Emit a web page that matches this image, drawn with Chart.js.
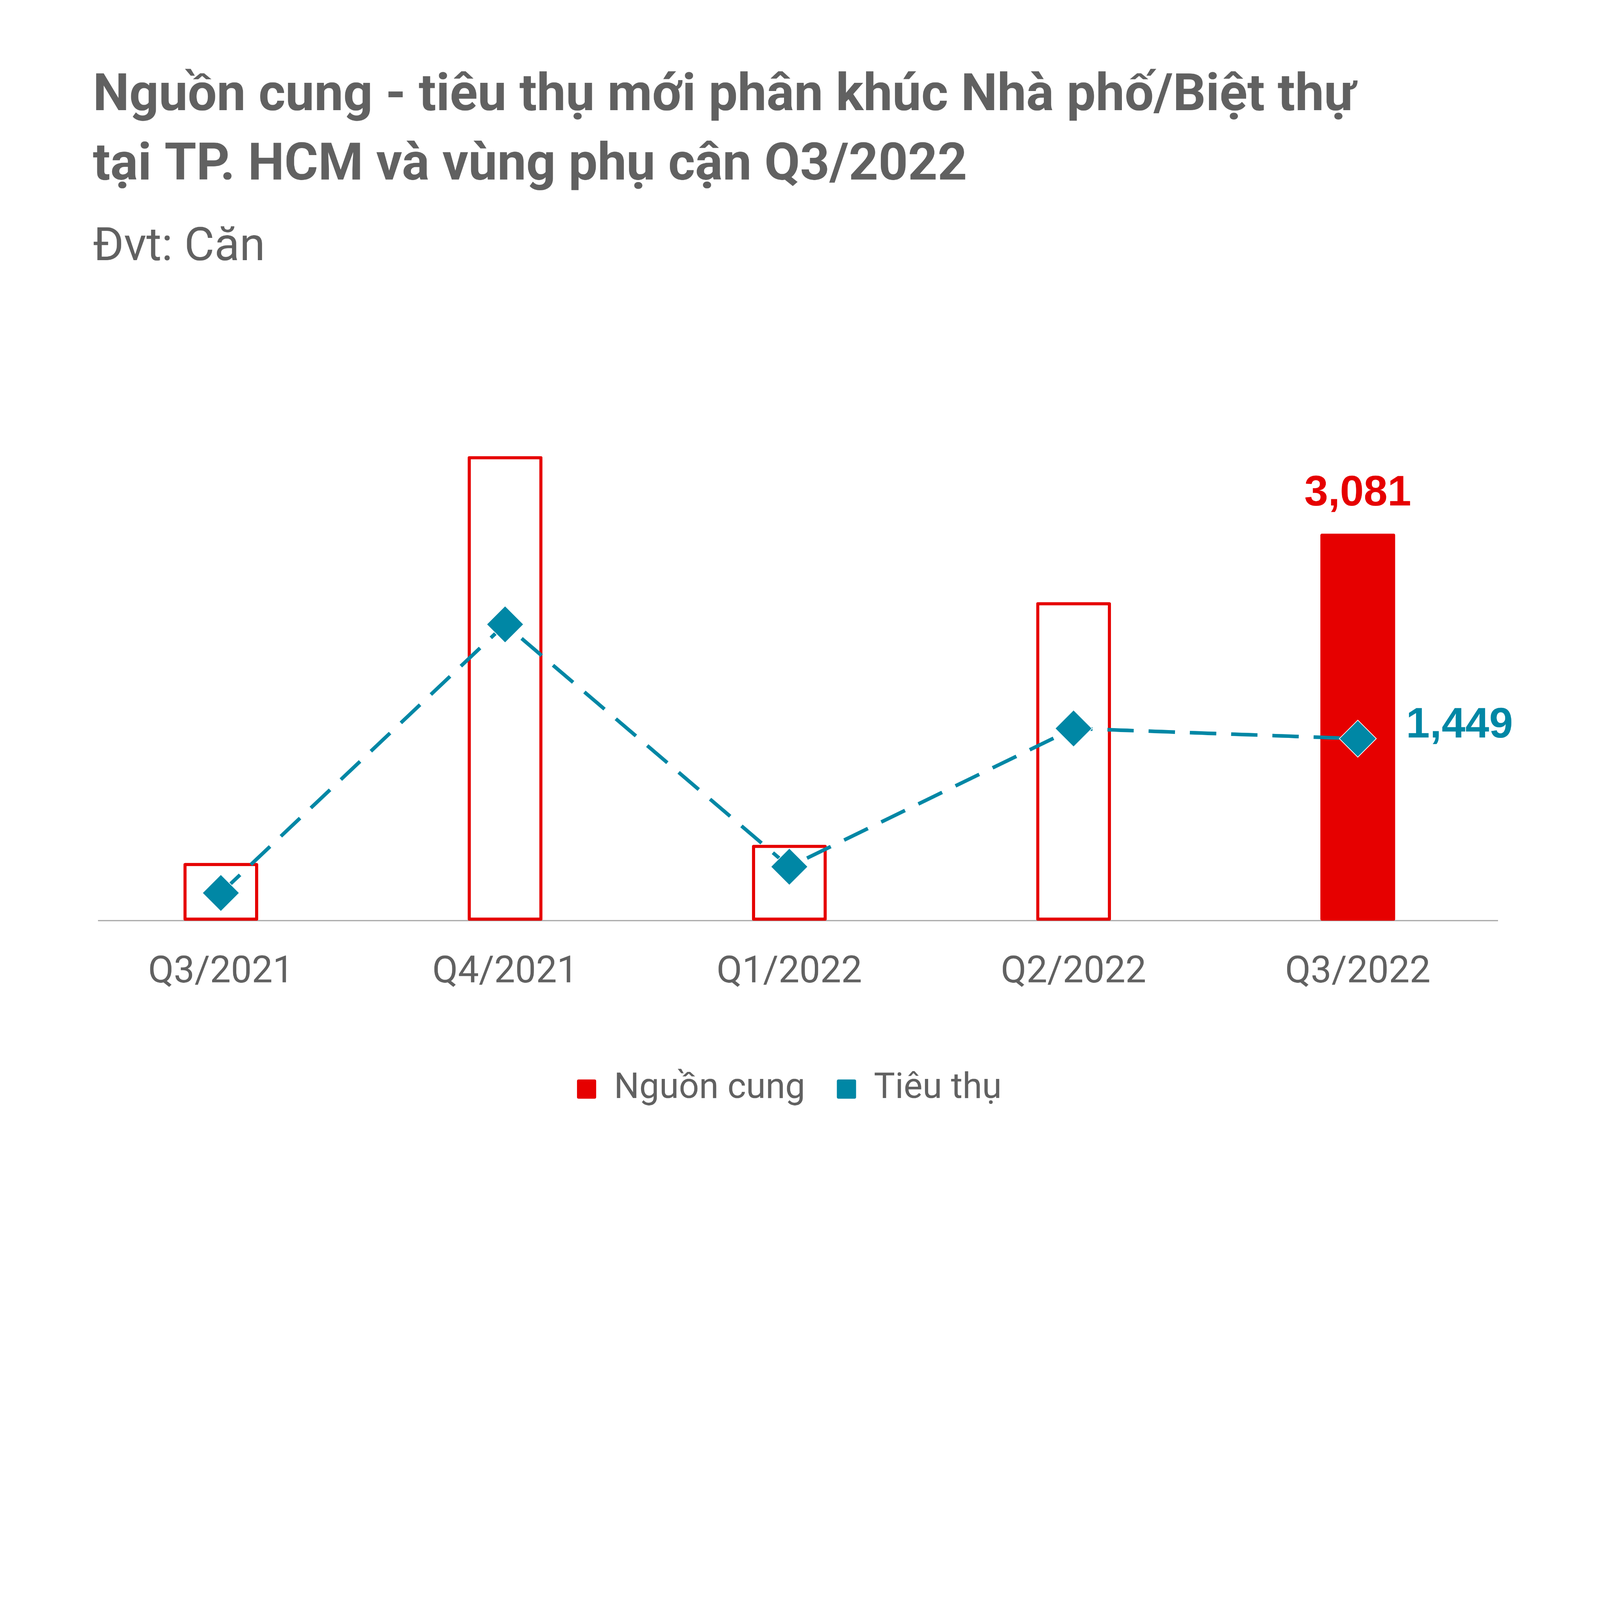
<!DOCTYPE html>
<html>
<head>
<meta charset="utf-8">
<script src="https://cdn.jsdelivr.net/npm/chart.js@4.4.1/dist/chart.umd.min.js"></script>
<style>
  html, body { margin: 0; padding: 0; background: #ffffff; overflow: hidden; }
  #wrap { width: 6667px; height: 5000px; position: absolute; left: 0; top: 0; transform-origin: 0 0; }
</style>
</head>
<body>
<div id="wrap"><canvas id="c" width="6667" height="5000"></canvas></div>
<script>
// ---- data ----
const categories = ['Q3/2021', 'Q4/2021', 'Q1/2022', 'Q2/2022', 'Q3/2022'];
const supplyValues = [458, 3698, 603, 2535, 3081];
const salesValues = [220, 2359, 429, 1530, 1449];
const seriesNames = ['Nguồn cung', 'Tiêu thụ'];
const titleLines = ['Nguồn cung - tiêu thụ mới phân khúc Nhà phố/Biệt thự', 'tại TP. HCM và vùng phụ cận Q3/2022'];
const subtitleText = 'Đvt: Căn';
const yMax = 4000;

// ---- page fit: draw on a 6667x5000 backing canvas shown 1:1 on the device ----
const W = 6667, H = 5000;
const fitScale = window.innerWidth / W;
document.getElementById('wrap').style.transform = 'scale(' + fitScale + ')';

// ---- styles ----
const RED = '#E60000';
const TEAL = '#0087A5';
const GRAY_TEXT = '#616161';
const AXIS_GRAY = '#A8A8A8';

const fmt = v => v.toLocaleString('en-US');

const bgPlugin = {
  id: 'bg',
  beforeDraw(chart) {
    const ctx = chart.ctx;
    ctx.save();
    ctx.fillStyle = '#ffffff';
    ctx.fillRect(0, 0, chart.width, chart.height);
    ctx.restore();
  }
};

const titlePlugin = {
  id: 'titles',
  afterDraw(chart) {
    const ctx = chart.ctx;
    ctx.save();
    ctx.fillStyle = GRAY_TEXT;
    ctx.textAlign = 'left';
    ctx.textBaseline = 'alphabetic';
    ctx.font = 'bold 215px Roboto';
    ctx.fillText(titleLines[0], 387, 459);
    ctx.fillText(titleLines[1], 387, 748);
    ctx.font = '193px Roboto';
    ctx.fillText(subtitleText, 387, 1084);
    ctx.restore();
  }
};

const baselinePlugin = {
  id: 'baseline',
  beforeDatasetsDraw(chart) {
    const ctx = chart.ctx;
    const y = chart.scales.y.getPixelForValue(0);
    ctx.save();
    ctx.strokeStyle = AXIS_GRAY;
    ctx.lineWidth = 5;
    ctx.beginPath();
    ctx.moveTo(408, y);
    ctx.lineTo(6242, y);
    ctx.stroke();
    ctx.restore();
  }
};

const labelPlugin = {
  id: 'valueLabels',
  afterDatasetsDraw(chart) {
    const ctx = chart.ctx;
    const last = categories.length - 1;
    const barEl = chart.getDatasetMeta(0).data[last];
    const ptEl = chart.getDatasetMeta(1).data[last];
    ctx.save();
    ctx.font = 'bold 178px "Liberation Sans"';
    ctx.textBaseline = 'alphabetic';
    ctx.fillStyle = RED;
    ctx.textAlign = 'center';
    ctx.fillText(fmt(supplyValues[last]), barEl.x, barEl.y - 118);
    ctx.fillStyle = TEAL;
    ctx.textAlign = 'left';
    ctx.fillText(fmt(salesValues[last]), ptEl.x + 201, ptEl.y - 5);
    ctx.restore();
  }
};

const barBg = supplyValues.map((v, i) => i === supplyValues.length - 1 ? RED : '#ffffff');

new Chart(document.getElementById('c'), {
  data: {
    labels: categories,
    datasets: [
      {
        type: 'bar',
        label: seriesNames[0],
        data: supplyValues,
        backgroundColor: barBg,
        borderColor: RED,
        borderWidth: 13,
        borderRadius: 6,
        borderSkipped: false,
        barThickness: 311,
        order: 2
      },
      {
        type: 'line',
        label: seriesNames[1],
        data: salesValues,
        borderColor: TEAL,
        borderWidth: 15,
        borderDash: [110, 62],
        fill: false,
        tension: 0,
        pointStyle: 'rectRot',
        pointRadius: 77,
        pointHoverRadius: 77,
        pointBackgroundColor: TEAL,
        pointBorderColor: '#ffffff',
        pointBorderWidth: 3,
        order: 1
      }
    ]
  },
  options: {
    responsive: false,
    maintainAspectRatio: false,
    animation: false,
    devicePixelRatio: 1,
    layout: { padding: { left: 328, right: 417, top: 1743, bottom: 378 } },
    scales: {
      x: {
        offset: true,
        grid: { display: false, drawTicks: false },
        border: { display: false },
        ticks: { color: GRAY_TEXT, font: { family: 'Roboto', size: 155 }, padding: 125 },
        afterFit(scale) { scale.height = 496; }
      },
      y: {
        display: false,
        min: 0,
        max: yMax
      }
    },
    plugins: {
      legend: {
        position: 'bottom',
        labels: {
          boxWidth: 80,
          boxHeight: 80,
          padding: 132,
          color: GRAY_TEXT,
          useBorderRadius: true,
          borderRadius: 6,
          font: { family: 'Roboto', size: 148 },
          generateLabels() {
            return [
              { text: seriesNames[0], fillStyle: RED, strokeStyle: RED, lineWidth: 0, hidden: false, datasetIndex: 0, borderRadius: 6, fontColor: GRAY_TEXT },
              { text: seriesNames[1], fillStyle: TEAL, strokeStyle: TEAL, lineWidth: 0, hidden: false, datasetIndex: 1, borderRadius: 6, fontColor: GRAY_TEXT }
            ];
          }
        }
      },
      title: { display: false },
      tooltip: { enabled: false }
    }
  },
  plugins: [bgPlugin, baselinePlugin, labelPlugin, titlePlugin]
});
</script>
</body>
</html>
